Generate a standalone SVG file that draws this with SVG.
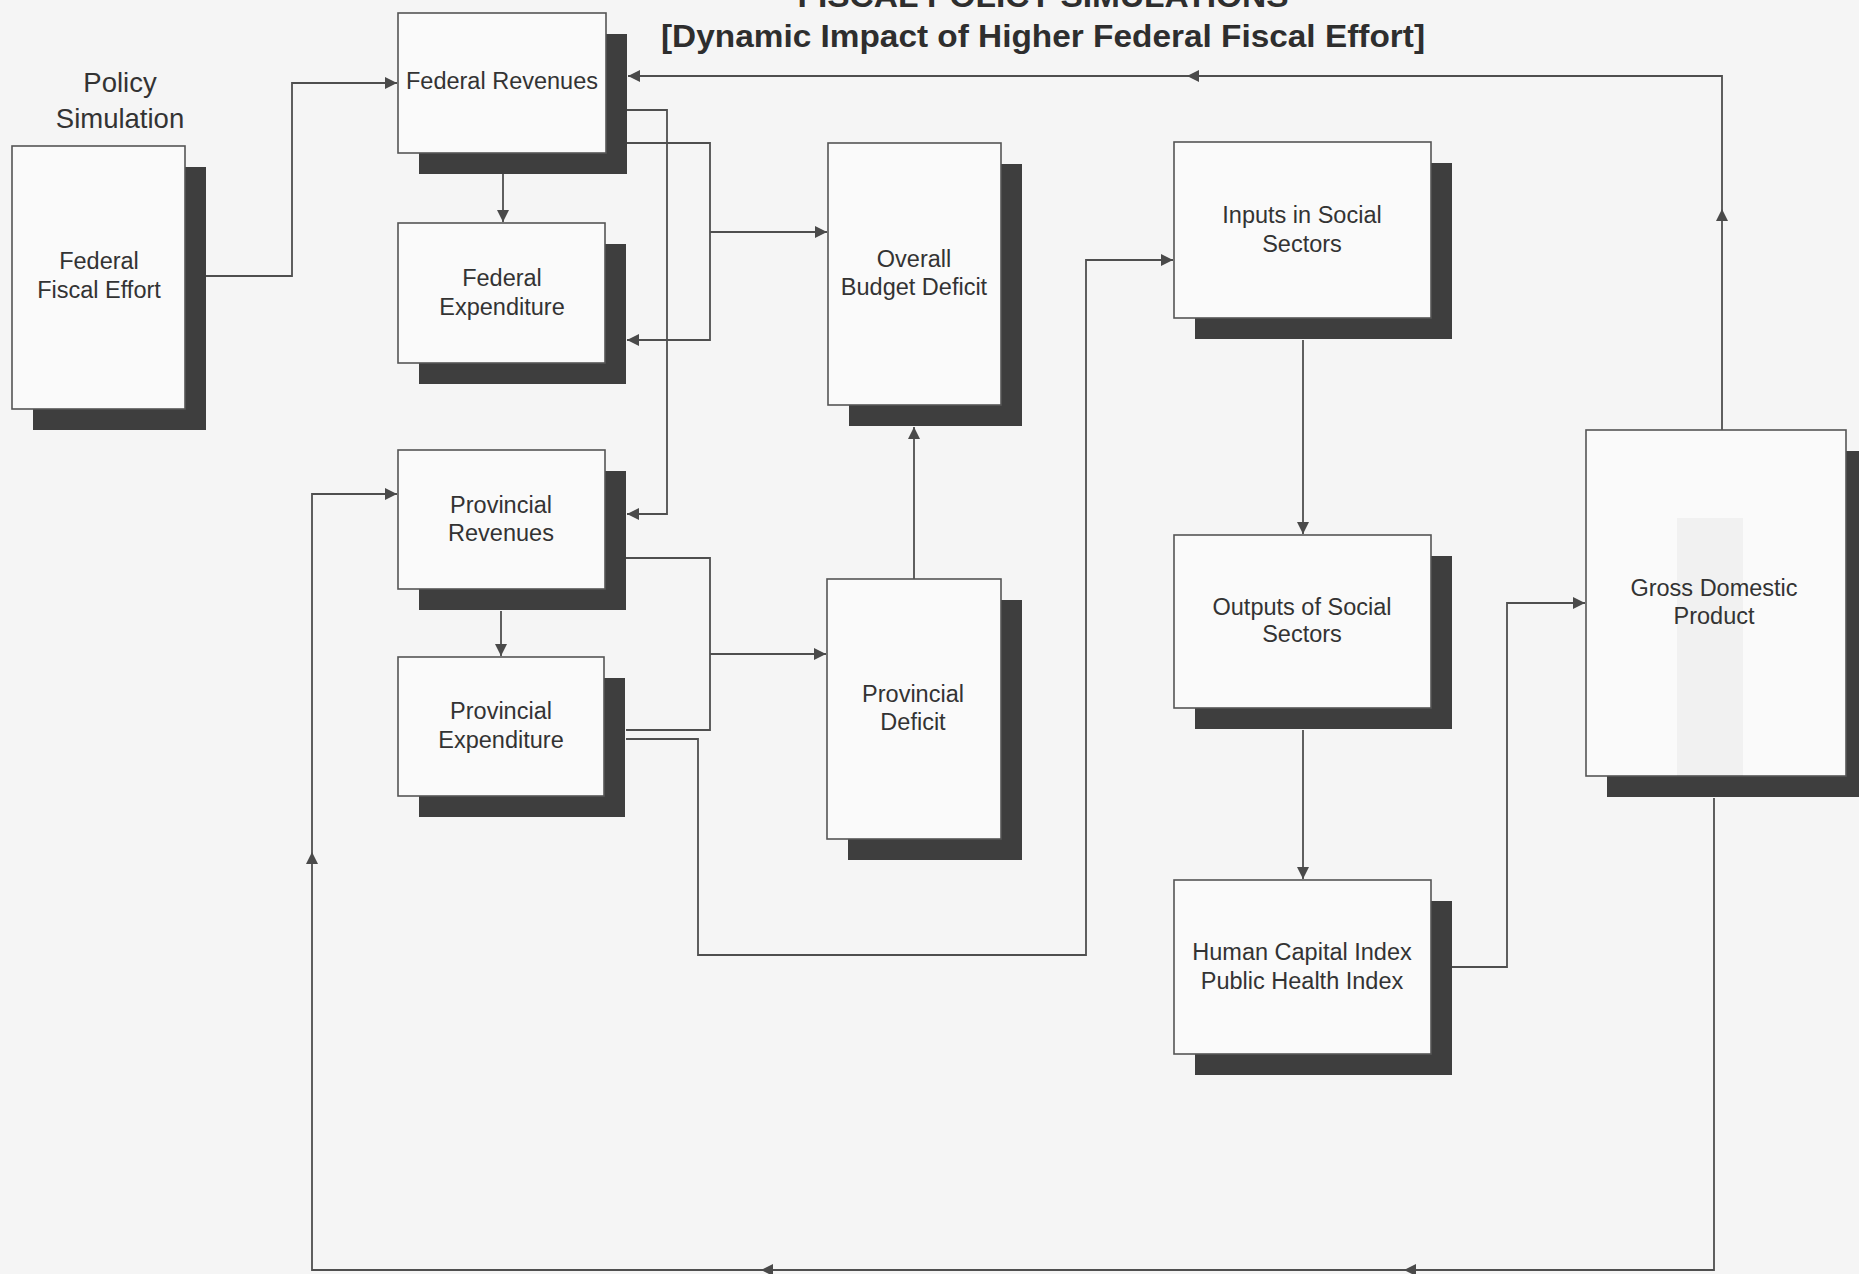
<svg xmlns="http://www.w3.org/2000/svg" width="1859" height="1274" viewBox="0 0 1859 1274">
  <defs>
    <marker id="arrow" markerUnits="userSpaceOnUse" markerWidth="13" markerHeight="12" refX="12" refY="6" orient="auto">
      <path d="M0,0 L12,6 L0,12 z" fill="#4a4a4a"/>
    </marker>
    <style>
      .bg { fill: #f5f5f5; }
      .shadow { fill: #3e3e3e; }
      .box { fill: #fafafa; stroke: #555; stroke-width: 1.6; }
      .lbl { font-family: "Liberation Sans", Arial, sans-serif; font-size: 23.5px; fill: #333; text-anchor: middle; }
      .side { font-family: "Liberation Sans", Arial, sans-serif; font-size: 27.5px; fill: #333; text-anchor: middle; }
      .title { font-family: "Liberation Sans", Arial, sans-serif; font-size: 31px; font-weight: bold; fill: #2e2e2e; text-anchor: middle; }
      .conn path { fill: none; stroke: #4f4f4f; stroke-width: 1.8; }
      .conn path.arr { marker-end: url(#arrow); }
    </style>
  </defs>

  <rect class="bg" x="0" y="0" width="1859" height="1274"/>

  <!-- title -->
  <g id="title">
    <text class="title" x="1043" y="7" textLength="491" lengthAdjust="spacingAndGlyphs">FISCAL POLICY SIMULATIONS</text>
    <text class="title" x="1043" y="47" textLength="764" lengthAdjust="spacingAndGlyphs">[Dynamic Impact of Higher Federal Fiscal Effort]</text>
  </g>

  <g id="policy-simulation-label">
    <text class="side" x="120" y="92">Policy</text>
    <text class="side" x="120" y="128">Simulation</text>
  </g>

  <!-- connectors -->
  <g id="connectors" class="conn">
    <path class="arr" d="M206 276 H292 V83 H397"/>
    <path class="arr" d="M1722 430 V209"/>
    <path class="arr" d="M1722 209 V76 H1187"/>
    <path class="arr" d="M1187 76 H628"/>
    <path class="arr" d="M503 174 V222"/>
    <path class="arr" d="M627 110 H667 V514 H627"/>
    <path class="arr" d="M627 143 H710 V340 H627"/>
    <path class="arr" d="M710 232 H827"/>
    <path class="arr" d="M501 611 V656"/>
    <path d="M626 558 H710 V730 H626"/>
    <path class="arr" d="M710 654 H826"/>
    <path class="arr" d="M914 579 V427"/>
    <path class="arr" d="M626 739 H698 V955 H1086 V260 H1173"/>
    <path class="arr" d="M1303 340 V534"/>
    <path class="arr" d="M1303 730 V879"/>
    <path class="arr" d="M1452 967 H1507 V603 H1585"/>
    <path class="arr" d="M1714 798 V1270 H1404"/>
    <path class="arr" d="M1404 1270 H761"/>
    <path class="arr" d="M761 1270 H312 V852"/>
    <path class="arr" d="M312 852 V494 H397"/>
  </g>

  <!-- nodes -->
  <g id="federal-fiscal-effort">
    <rect class="shadow" x="33" y="167" width="173" height="263"/>
    <rect class="box" x="12" y="146" width="173" height="263"/>
    <text class="lbl" x="99" y="269">Federal</text>
    <text class="lbl" x="99" y="298">Fiscal Effort</text>
  </g>

  <g id="federal-revenues">
    <rect class="shadow" x="419" y="34" width="208" height="140"/>
    <rect class="box" x="398" y="13" width="208" height="140"/>
    <text class="lbl" x="502" y="89">Federal Revenues</text>
  </g>

  <g id="federal-expenditure">
    <rect class="shadow" x="419" y="244" width="207" height="140"/>
    <rect class="box" x="398" y="223" width="207" height="140"/>
    <text class="lbl" x="502" y="286">Federal</text>
    <text class="lbl" x="502" y="315">Expenditure</text>
  </g>

  <g id="provincial-revenues">
    <rect class="shadow" x="419" y="471" width="207" height="139"/>
    <rect class="box" x="398" y="450" width="207" height="139"/>
    <text class="lbl" x="501" y="513">Provincial</text>
    <text class="lbl" x="501" y="541">Revenues</text>
  </g>

  <g id="provincial-expenditure">
    <rect class="shadow" x="419" y="678" width="206" height="139"/>
    <rect class="box" x="398" y="657" width="206" height="139"/>
    <text class="lbl" x="501" y="719">Provincial</text>
    <text class="lbl" x="501" y="748">Expenditure</text>
  </g>

  <g id="overall-budget-deficit">
    <rect class="shadow" x="849" y="164" width="173" height="262"/>
    <rect class="box" x="828" y="143" width="173" height="262"/>
    <text class="lbl" x="914" y="267">Overall</text>
    <text class="lbl" x="914" y="295">Budget Deficit</text>
  </g>

  <g id="provincial-deficit">
    <rect class="shadow" x="848" y="600" width="174" height="260"/>
    <rect class="box" x="827" y="579" width="174" height="260"/>
    <text class="lbl" x="913" y="702">Provincial</text>
    <text class="lbl" x="913" y="730">Deficit</text>
  </g>

  <g id="inputs-social-sectors">
    <rect class="shadow" x="1195" y="163" width="257" height="176"/>
    <rect class="box" x="1174" y="142" width="257" height="176"/>
    <text class="lbl" x="1302" y="223">Inputs in Social</text>
    <text class="lbl" x="1302" y="252">Sectors</text>
  </g>

  <g id="outputs-social-sectors">
    <rect class="shadow" x="1195" y="556" width="257" height="173"/>
    <rect class="box" x="1174" y="535" width="257" height="173"/>
    <text class="lbl" x="1302" y="615">Outputs of Social</text>
    <text class="lbl" x="1302" y="642">Sectors</text>
  </g>

  <g id="human-capital-index">
    <rect class="shadow" x="1195" y="901" width="257" height="174"/>
    <rect class="box" x="1174" y="880" width="257" height="174"/>
    <text class="lbl" x="1302" y="960">Human Capital Index</text>
    <text class="lbl" x="1302" y="989">Public Health Index</text>
  </g>

  <g id="gross-domestic-product">
    <rect class="shadow" x="1607" y="451" width="260" height="346"/>
    <rect class="box" x="1586" y="430" width="260" height="346"/>
    <rect x="1677" y="518" width="66" height="258" fill="#000" opacity="0.035"/>
    <text class="lbl" x="1714" y="596">Gross Domestic</text>
    <text class="lbl" x="1714" y="624">Product</text>
  </g>
</svg>
